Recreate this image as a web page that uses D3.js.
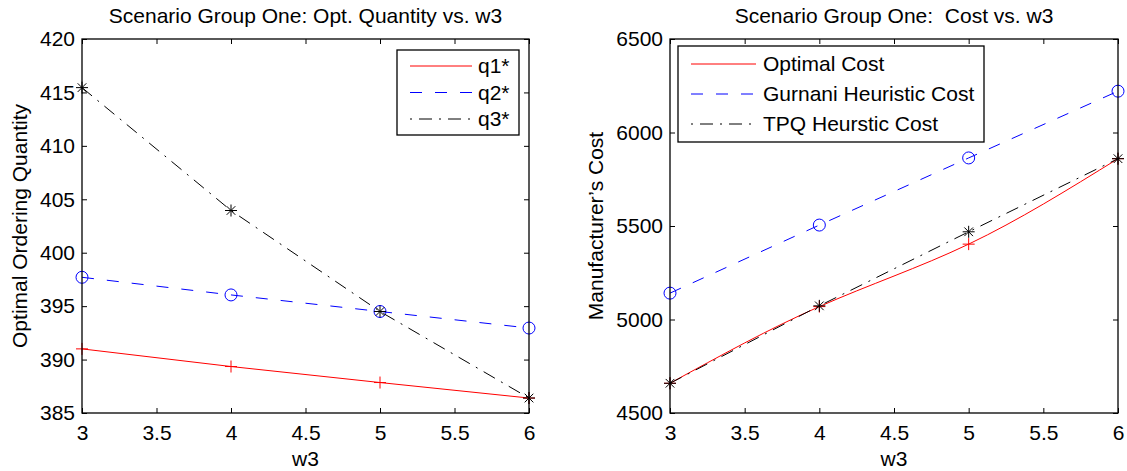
<!DOCTYPE html>
<html>
<head>
<meta charset="utf-8">
<script src="https://cdn.jsdelivr.net/npm/d3@7/dist/d3.min.js"></script>
<style>
  html, body { margin: 0; padding: 0; background: #fff; }
  svg { display: block; font-family: "Liberation Sans", Arial, Helvetica, sans-serif; }
</style>
</head>
<body>
<svg id="chart" width="1127" height="471"></svg>
<script>
// ---------- data ----------
const w3 = [3, 4, 5, 6];
const xTicks = [3, 3.5, 4, 4.5, 5, 5.5, 6];

const q1 = [391.0, 389.35, 387.85, 386.4];
const q2 = [397.7, 396.05, 394.5, 392.95];
const q3 = [415.45, 403.95, 394.5, 386.4];
const qTicks = [385, 390, 395, 400, 405, 410, 415, 420];
const qNames = ["q1*", "q2*", "q3*"];

const optimalCost = [4659, 5069, 5403, 5860];
const gurnaniCost = [5141, 5505, 5864, 6221];
const tpqCost = [4659, 5073, 5469, 5860];
const costTicks = [4500, 5000, 5500, 6000, 6500];
const costNames = ["Optimal Cost", "Gurnani Heuristic Cost", "TPQ Heurstic Cost"];

// ---------- styles ----------
const styles = [
  { color: "#ff0000", dash: null, legendOffset: 0, marker: "plus" },
  { color: "#0000ff", dash: "12,13", legendOffset: 0, marker: "circle" },
  { color: "#000000", dash: "13,7,2,7", legendOffset: 20, marker: "star" }
];

const svg = d3.select("#chart");
const FS = 21;

function marker(g, type, x, y, color) {
  const s = 6;
  if (type === "circle") {
    g.append("circle").attr("cx", x).attr("cy", y).attr("r", s)
      .attr("fill", "none").attr("stroke", color).attr("stroke-width", 1);
  } else {
    const p = d3.path();
    p.moveTo(x - s, y); p.lineTo(x + s, y);
    p.moveTo(x, y - s); p.lineTo(x, y + s);
    if (type === "star") {
      const d = s * 0.72;
      p.moveTo(x - d, y - d); p.lineTo(x + d, y + d);
      p.moveTo(x - d, y + d); p.lineTo(x + d, y - d);
    }
    g.append("path").attr("d", p.toString()).attr("stroke", color)
      .attr("stroke-width", 1).attr("fill", "none");
  }
}

function panel(cfg) {
  const { left, right, top, bottom } = cfg.box;
  const x = d3.scaleLinear().domain([3, 6]).range([left, right]);
  const y = d3.scaleLinear().domain(cfg.yDomain).range([bottom, top]);
  const g = svg.append("g");

  // series
  cfg.series.forEach((vals, i) => {
    const st = styles[i];
    const line = d3.line().x((d, j) => x(w3[j])).y(d => y(d))
      .curve(cfg.curves[i] || d3.curveLinear);
    g.append("path").datum(vals).attr("d", line)
      .attr("fill", "none").attr("stroke", st.color).attr("stroke-width", 1)
      .attr("stroke-dasharray", st.dash);
    vals.forEach((v, j) => marker(g, st.marker, x(w3[j]), y(v), st.color));
  });

  // axes (MATLAB box with inward ticks)
  const tl = 5;
  const ax = g.append("g");
  ax.append("g").attr("transform", `translate(0,${bottom})`)
    .call(d3.axisBottom(x).tickValues(xTicks).tickSizeInner(-tl).tickSizeOuter(0).tickPadding(12).tickFormat(d3.format("")));
  ax.append("g").attr("transform", `translate(0,${top})`)
    .call(d3.axisTop(x).tickValues(xTicks).tickSizeInner(-tl).tickSizeOuter(0).tickFormat(""));
  ax.append("g").attr("transform", `translate(${left},0)`)
    .call(d3.axisLeft(y).tickValues(cfg.yTicks).tickSizeInner(-tl).tickSizeOuter(0).tickPadding(7).tickFormat(d3.format("")));
  ax.append("g").attr("transform", `translate(${right},0)`)
    .call(d3.axisRight(y).tickValues(cfg.yTicks).tickSizeInner(-tl).tickSizeOuter(0).tickFormat(""));
  ax.selectAll(".domain").remove();
  ax.selectAll("line").attr("stroke", "#000");
  ax.selectAll("text").attr("font-size", FS).attr("fill", "#000").attr("font-family", "Liberation Sans, Arial, sans-serif");
  g.append("rect").attr("x", left).attr("y", top).attr("width", right - left).attr("height", bottom - top)
    .attr("fill", "none").attr("stroke", "#000").attr("stroke-width", 1.3);

  // title and labels
  g.append("text").attr("x", (left + right) / 2).attr("y", 23).attr("text-anchor", "middle")
    .attr("font-size", FS).attr("xml:space", "preserve").style("white-space", "pre").text(cfg.title);
  g.append("text").attr("x", (left + right) / 2).attr("y", 466).attr("text-anchor", "middle")
    .attr("font-size", FS).text("w3");
  g.append("text").attr("transform", `translate(${cfg.yLabelX},${(top + bottom) / 2}) rotate(-90)`)
    .attr("text-anchor", "middle").attr("dy", "0.35em").attr("font-size", FS).text(cfg.yLabel);

  // legend
  const L = cfg.legend;
  g.append("rect").attr("x", L.x0).attr("y", L.y0).attr("width", L.x1 - L.x0).attr("height", L.y1 - L.y0)
    .attr("fill", "#fff").attr("stroke", "#000").attr("stroke-width", 1.3);
  cfg.names.forEach((n, i) => {
    const st = styles[i];
    const yy = L.rows[i];
    g.append("line").attr("x1", L.lx0).attr("x2", L.lx1).attr("y1", yy).attr("y2", yy)
      .attr("stroke", st.color).attr("stroke-width", 1).attr("stroke-dasharray", st.dash)
      .attr("stroke-dashoffset", st.legendOffset);
    g.append("text").attr("x", L.tx).attr("y", yy).attr("dy", "0.35em").attr("font-size", FS).text(n);
  });
}

panel({
  box: { left: 82, right: 529, top: 39, bottom: 413 },
  yDomain: [385, 420], yTicks: qTicks,
  series: [q1, q2, q3], curves: [],
  title: "Scenario Group One: Opt. Quantity vs. w3",
  yLabel: "Optimal Ordering Quantity", yLabelX: 20,
  names: qNames,
  legend: { x0: 397, x1: 519, y0: 50, y1: 135, lx0: 410, lx1: 472, tx: 478, rows: [66, 92.5, 119] }
});

panel({
  box: { left: 670, right: 1118, top: 39, bottom: 413 },
  yDomain: [4500, 6500], yTicks: costTicks,
  series: [optimalCost, gurnaniCost, tpqCost], curves: [d3.curveNatural],
  title: "Scenario Group One:  Cost vs. w3",
  yLabel: "Manufacturer\u2019s Cost", yLabelX: 596,
  names: costNames,
  legend: { x0: 678, x1: 984, y0: 46, y1: 142, lx0: 691, lx1: 756, tx: 763, rows: [64, 94, 124] }
});
</script>
</body>
</html>
